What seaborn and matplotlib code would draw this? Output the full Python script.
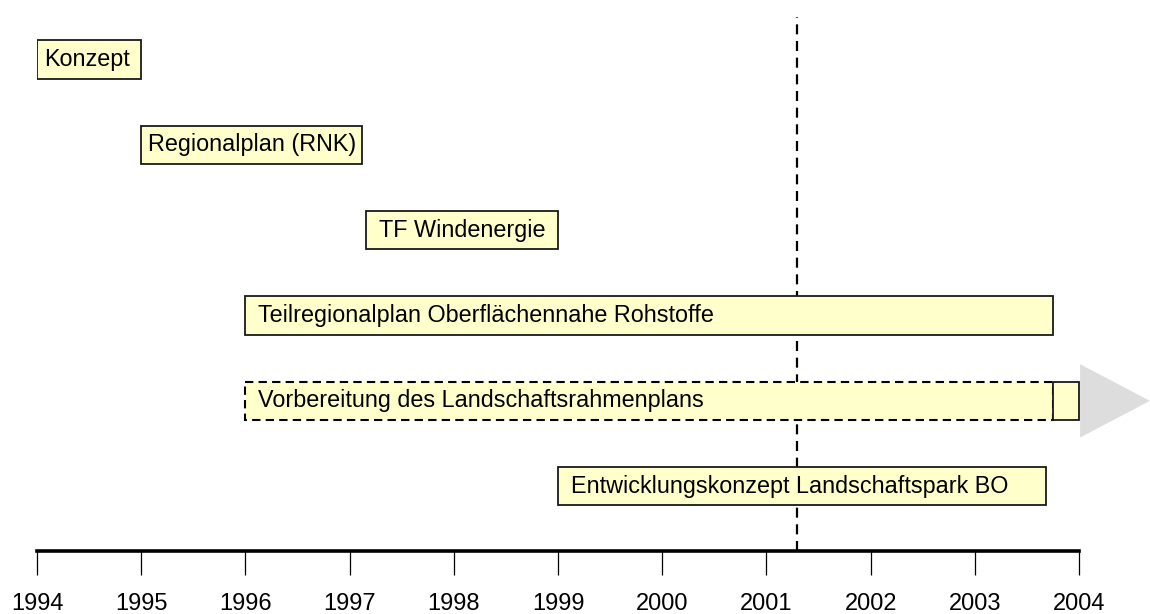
import matplotlib
matplotlib.use("Agg")
import matplotlib.pyplot as plt
from matplotlib.patches import Polygon
import seaborn as sns

# timeline data (years)
tasks = ['Konzept', 'Regionalplan (RNK)', 'TF Windenergie',
         'Teilregionalplan Oberflächennahe Rohstoffe',
         'Vorbereitung des Landschaftsrahmenplans',
         'Entwicklungskonzept Landschaftspark BO']
start = [1994.0, 1995.0, 1997.16, 1996.0, 1996.0, 1999.0]
end = [1995.0, 1997.12, 1999.0, 2003.75, 2003.75, 2003.68]
dashed = [False, False, False, False, True, False]
# ongoing part of the Landschaftsrahmenplan
tail_task = 'Vorbereitung des Landschaftsrahmenplans'
tail_start = 2003.75
tail_end = 2004.0
today = 2001.29
years = list(range(1994, 2005))

sns.set_theme(style="white")
plt.rcParams['font.family'] = ['Liberation Sans', 'DejaVu Sans']

W, H = 1150, 614
fig = plt.figure(figsize=(W / 100, H / 100), dpi=100)
ax = fig.add_axes([37 / W, 1 - 551 / H, 1 - 37 / W, (551 - 17) / H])

fill = '#ffffcc'
dur = [e - s for s, e in zip(start, end)]
sns.barplot(x=dur, y=tasks, left=start, orient='h', width=0.45,
            color=fill, edgecolor='#1a1a1a', linewidth=1.3,
            errorbar=None, saturation=1, ax=ax, zorder=3)

for patch, d in zip(ax.patches, dashed):
    if d:
        patch.set_linestyle((0, (4, 2.5)))
        patch.set_linewidth(1.5)
        patch.set_edgecolor('black')

row = tasks.index(tail_task)
ax.barh(row, tail_end - tail_start, left=tail_start, height=0.45,
        color=fill, edgecolor='#1a1a1a', linewidth=1.3, zorder=3)

# grey arrow pointing beyond the last year
ax.add_patch(Polygon([[tail_end + 0.01, row - 0.43], [tail_end + 0.01, row + 0.43],
                      [tail_end + 0.68, row]], closed=True,
                     facecolor='#dddddd', edgecolor='none', zorder=2))

for i, t in enumerate(tasks):
    pad = 0.065 if i < 2 else 0.12
    ax.text(start[i] + pad, i, t, va='center', ha='left', fontsize=16.8,
            color='black', zorder=4)

ax.axvline(today, color='black', linewidth=1.6, linestyle=(0, (4.5, 3)), zorder=1)

ax.set_xlim(1994, 2004.681)
ax.set_ylim(5.76, -0.5)
ax.set_xticks(years)
ax.set_xticklabels([str(y) for y in years])
ax.set_yticks([])
ax.set_ylabel('')
ax.set_xlabel('')
for side in ['top', 'right', 'left']:
    ax.spines[side].set_visible(False)
ax.spines['bottom'].set_linewidth(2.6)
ax.spines['bottom'].set_color('black')
ax.spines['bottom'].set_bounds(1994, 2004)
ax.tick_params(axis='x', bottom=True, direction='out', length=17, width=0.9,
               color='black', labelsize=17, labelcolor='black', pad=13)

fig.savefig('out.png', dpi=100)
